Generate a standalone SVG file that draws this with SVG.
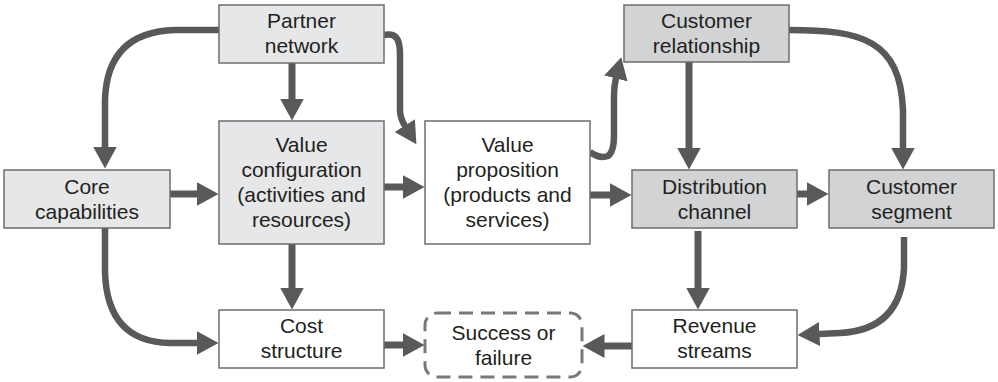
<svg xmlns="http://www.w3.org/2000/svg" width="998" height="382" viewBox="0 0 998 382">
<defs>
<style>
.box{stroke:#6d6e71;stroke-width:1.5}
.l1{fill:#e6e7e8}
.l2{fill:#d1d3d4}
.w{fill:#ffffff}
.t{font-family:"Liberation Sans",Arial,sans-serif;font-size:21px;fill:#231f20;text-anchor:middle}
.c{fill:none;stroke:#58595b;stroke-width:6.5;marker-end:url(#ah)}
.s{fill:none;stroke:#58595b;stroke-width:7;marker-end:url(#ah)}
</style>
<marker id="ah" markerUnits="userSpaceOnUse" viewBox="0 0 22 24" markerWidth="22" markerHeight="24" refX="0.5" refY="12" orient="auto">
<path d="M0,0 L22,12 L0,24 Z" fill="#58595b"/>
</marker>
</defs>
<g id="connectors">
<path class="s" d="M292,63 L292,99"/>
<path class="c" d="M219,30 L175,30 Q107,32 105,100 L105,147"/>
<path class="s" d="M170,194 L197,194"/>
<path class="c" d="M105,228 L105,272 Q107,342 170,343 L197,343"/>
<path class="s" d="M292,244 L292,288"/>
<path class="s" d="M384,187 L403,187"/>
<path class="c" d="M384,35 C396,33 400,38 400,55 L400,110 Q400,118 405,126"/>
<path class="c" d="M590,152 Q600,159 608,156 Q614,152 614,135 L614,96 Q614,86 616,78"/>
<path class="s" d="M590,195 L610,195"/>
<path class="s" d="M689,62 L689,148"/>
<path class="c" d="M789,30 C862,30 900,40 903,110 L903,148"/>
<path class="s" d="M797,194 L807,194"/>
<path class="s" d="M698,231 L698,288"/>
<path class="c" d="M904,237 L904,268 Q901,330 840,333 L819,334"/>
<path class="s" d="M384,345 L403,345"/>
<path class="s" d="M632,346 L604,346"/>
</g>
<g id="partner-network">
<rect class="box l1" x="219" y="5" width="165" height="58"/>
<text class="t" x="301.5" y="28">Partner</text>
<text class="t" x="301.5" y="53">network</text>
</g>
<g id="core-capabilities">
<rect class="box l1" x="4" y="170" width="166" height="58"/>
<text class="t" x="87" y="194">Core</text>
<text class="t" x="87" y="219">capabilities</text>
</g>
<g id="value-configuration">
<rect class="box l1" x="219" y="121" width="165" height="123"/>
<text class="t" x="301.5" y="152">Value</text>
<text class="t" x="301.5" y="177">configuration</text>
<text class="t" x="301.5" y="202">(activities and</text>
<text class="t" x="301.5" y="227">resources)</text>
</g>
<g id="value-proposition">
<rect class="box w" x="425" y="121" width="165" height="123"/>
<text class="t" x="507.5" y="152">Value</text>
<text class="t" x="507.5" y="177">proposition</text>
<text class="t" x="507.5" y="202">(products and</text>
<text class="t" x="507.5" y="227">services)</text>
</g>
<g id="customer-relationship">
<rect class="box l2" x="624" y="5" width="165" height="57"/>
<text class="t" x="706.5" y="28">Customer</text>
<text class="t" x="706.5" y="53">relationship</text>
</g>
<g id="distribution-channel">
<rect class="box l2" x="632" y="170" width="165" height="58"/>
<text class="t" x="714.5" y="194">Distribution</text>
<text class="t" x="714.5" y="219">channel</text>
</g>
<g id="customer-segment">
<rect class="box l2" x="829" y="170" width="165" height="58"/>
<text class="t" x="911.5" y="194">Customer</text>
<text class="t" x="911.5" y="219">segment</text>
</g>
<g id="cost-structure">
<rect class="box w" x="219" y="310" width="165" height="58"/>
<text class="t" x="301.5" y="333">Cost</text>
<text class="t" x="301.5" y="358">structure</text>
</g>
<g id="success-or-failure">
<rect x="425" y="313" width="157" height="64" rx="12" ry="12" fill="#ffffff" stroke="#77787b" stroke-width="3" stroke-dasharray="14 8"/>
<text class="t" x="503.5" y="340">Success or</text>
<text class="t" x="503.5" y="365">failure</text>
</g>
<g id="revenue-streams">
<rect class="box w" x="632" y="310" width="165" height="58"/>
<text class="t" x="714.5" y="333">Revenue</text>
<text class="t" x="714.5" y="358">streams</text>
</g>
</svg>
